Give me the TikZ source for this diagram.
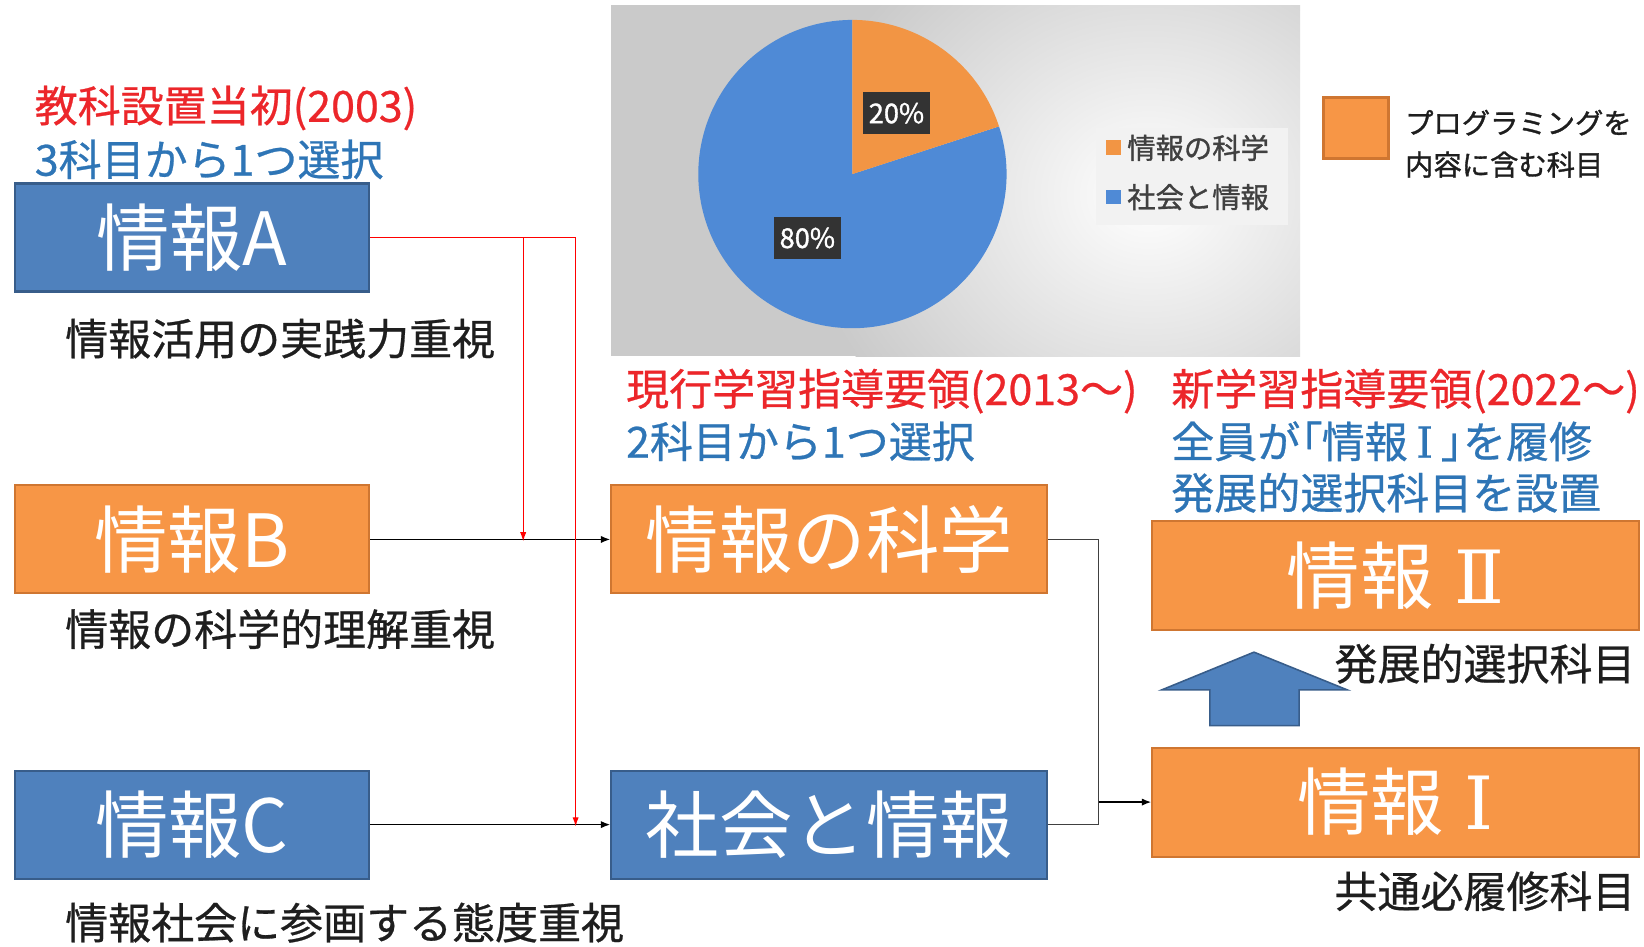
\documentclass[tikz,border=0pt]{standalone}
\usepackage{fontspec}
\setmainfont{Noto Sans CJK JP}
\newfontfamily\jpbold{Noto Sans CJK JP}[FakeBold=1.2]
\newfontfamily\jpmed{Noto Sans CJK JP}[FakeBold=0.6]
\newfontfamily\jppalt{Noto Sans CJK JP}[FakeBold=0.6,RawFeature=+palt]
\newfontfamily\romser{DejaVu Serif}
\newfontfamily\romsermed{DejaVu Serif}[FakeBold=0.4]
\usetikzlibrary{arrows.meta}
\definecolor{bxorange}{HTML}{F79646}
\definecolor{bxorangeline}{HTML}{CF7631}
\definecolor{bxblue}{HTML}{4F81BD}
\definecolor{bxblueline}{HTML}{385D8A}
\definecolor{piorange}{HTML}{F29544}
\definecolor{piblue}{HTML}{4F8AD6}
\definecolor{ttred}{RGB}{236,38,42}
\definecolor{ttblue}{HTML}{2E75B6}
\definecolor{lbblack}{HTML}{1E1E1E}
\definecolor{bggray}{HTML}{CACACA}
\definecolor{lggray}{HTML}{404040}
\newcommand\fsLab{\fontsize{41bp}{48bp}\selectfont}
\newcommand\fsBox{\fontsize{70bp}{80bp}\selectfont}
\newcommand\fsLeg{\fontsize{27bp}{32bp}\selectfont}
\begin{document}
\begin{tikzpicture}[x=1bp,y=-1bp,
  lab/.style={inner sep=0pt,anchor=west,font=\jpmed\fsLab},
  redtxt/.style={lab,text=ttred},
  bluetxt/.style={lab,text=ttblue},
  blktxt/.style={lab,text=lbblack},
  obox/.style={draw=bxorangeline,fill=bxorange,line width=2bp,text=white,font=\fsBox,inner sep=0pt},
  bbox/.style={draw=bxblueline,fill=bxblue,line width=2bp,text=white,font=\fsBox,inner sep=0pt},
  smallbox/.style={minimum width=338bp,minimum height=103bp},
  midbox/.style={minimum width=416bp,minimum height=103bp},
  bigbox/.style={minimum width=464bp,minimum height=104bp},
  arr/.style={draw=black,line width=1.3bp,-{Latex[length=9bp,width=7bp]}},
  redarr/.style={draw=red,line width=1.3bp,-{Latex[length=9bp,width=6bp]}},
  redln/.style={draw=red,line width=1.3bp},
  gln/.style={draw=lggray,line width=1.2bp},
  pct/.style={fill=black!80,text=white,font=\jpbold\fontsize{26bp}{30bp}\selectfont,minimum width=64bp,minimum height=40bp,inner sep=0pt},
  legtxt/.style={inner sep=0pt,anchor=west,text=lggray,font=\jpbold\fsLeg}
]
\useasboundingbox (0,0) rectangle (1568,903);
\fill[white] (0,0) rectangle (1568,903);

% chart background
\fill[bggray] (583,5) rectangle (1240,340);
\begin{scope}
  \clip (583,5) rectangle (1240,340);
  \shade[inner color=white,outer color=bggray] (1095,185) ellipse [x radius=330,y radius=290];
\end{scope}

% pie
\coordinate (pc) at (813,166);
\fill[piblue] (pc) -- ++(-18:147) arc[start angle=-18,end angle=270,radius=147] -- cycle;
\fill[piorange] (pc) -- ++(-90:147) arc[start angle=-90,end angle=-18,radius=147] -- cycle;
\node[pct] (p20) at (855,108) {20\%};
\node[pct] (p80) at (770,227) {80\%};

% chart legend
\fill[black!5] (1045,122) rectangle (1228,215);
\fill[piorange] (1055,134) rectangle (1069,148);
\fill[piblue] (1055,181) rectangle (1069,195);
\node[legtxt] (lg1) at (1075,141) {情報の科学};
\node[legtxt] (lg2) at (1075,188) {社会と情報};

% programming legend
\node[draw=bxorangeline,fill=bxorange,line width=3bp,minimum width=62bp,minimum height=58bp,inner sep=0pt] (pkey) at (1293,122) {};
\node[inner sep=0pt,anchor=west,text=lbblack,font=\jpbold\fsLeg] (pk1) at (1340,117) {プログラミングを};
\node[inner sep=0pt,anchor=west,text=lbblack,font=\jpbold\fsLeg] (pk2) at (1340,157) {内容に含む科目};

% left column
\node[redtxt] (t1) at (33,103) {教科設置当初(2003)};
\node[bluetxt] (t2) at (33,152) {3科目から1つ選択};
\node[bbox,smallbox] (A) at (183,226.5) {情報A};
\node[blktxt] (la) at (62,323) {情報活用の実践力重視};
\node[obox,smallbox] (B) at (183,514.5) {情報B};
\node[blktxt] (lb) at (62,600) {情報の科学的理解重視};
\node[bbox,smallbox] (C) at (183,786.5) {情報C};
\node[blktxt] (lc) at (62,880) {情報社会に参画する態度重視};

% middle column
\node[redtxt] (t3) at (597,373) {現行学習指導要領(2013〜)};
\node[bluetxt] (t4) at (597,421) {2科目から1つ選択};
\node[obox,midbox] (S) at (791,514.5) {情報の科学};
\node[bbox,midbox] (Sh) at (791,786.5) {社会と情報};

% right column
\node[redtxt] (t5) at (1117,373) {新学習指導要領(2022〜)};
\node[bluetxt] (t6) at (1117,421) {全員が{\jppalt 「}情報\hspace{8bp}{\romsermed Ⅰ}\hspace{8bp}{\jppalt 」}を履修};
\node[bluetxt] (t7) at (1117,470) {発展的選択科目を設置};
\node[obox,bigbox] (I2) at (1331,549) {情報\hspace{20bp}{\romser Ⅱ}};
\node[blktxt,anchor=east] (l2) at (1560,633) {発展的選択科目};
\node[obox,bigbox] (I1) at (1331,765) {情報\hspace{20bp}{\romser Ⅰ}};
\node[blktxt,anchor=east] (l1) at (1560,850) {共通必履修科目};

% block arrow
\draw[fill=bxblue,draw=bxblueline,line width=1.5bp]
  (1196,622) -- (1285,658) -- (1239,658) -- (1239,692) -- (1154,692) -- (1154,658) -- (1108,658) -- cycle;

% connectors
\draw[arr] (B.east) -- (S.west);
\draw[arr] (C.east) -- (Sh.west);

\coordinate (j1) at (499,226.5);
\coordinate (j2) at (549,226.5);
\draw[redln] (A.east) -- (j2);
\draw[redarr] (j1) -- ([yshift=-2bp]j1 |- B.east);
\draw[redarr] (j2) -- ([yshift=-2bp]j2 |- C.east);

\coordinate (m) at (1048,0);
\draw[gln] (S.east) -- (S.east -| m) -- (Sh.east -| m) -- (Sh.east);
\draw[arr] (I1.west -| m) -- (I1.west);
\end{tikzpicture}
\end{document}
